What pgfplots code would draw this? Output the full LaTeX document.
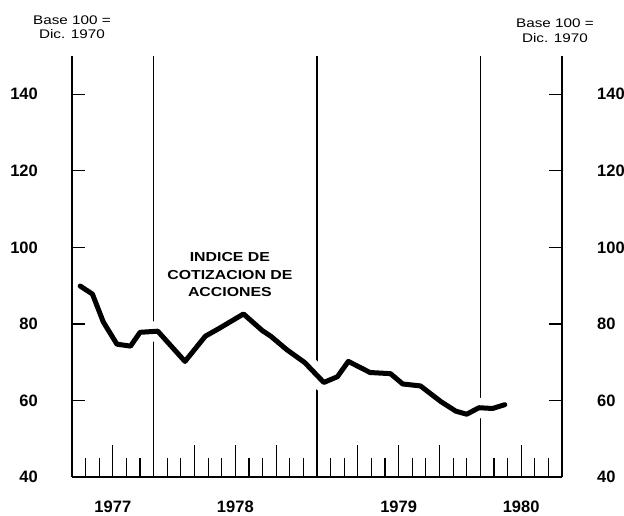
\documentclass[border=0pt]{standalone}
\usepackage{pgfplots}
\pgfplotsset{compat=1.18}
\usepackage{fontspec}
\setmainfont{Liberation Sans}
\newfontfamily\widefont[FakeStretch=1.22]{Liberation Sans}

% indice mensual, x = meses desde jul-1977
\pgfplotstableread{
m    v
0.6  89.9
1.5  87.8
2.3  80.5
3.3  74.7
4.3  74.2
5.0  77.8
6.3  78.1
8.3  70.2
9.8  76.8
10.8 78.8
12.6 82.6
14.0 78.2
14.6 76.8
15.8 73.2
17.1 69.9
18.5 64.7
19.5 66.2
20.3 70.2
21.9 67.3
23.4 67.0
24.3 64.3
25.6 63.8
27.1 59.7
28.2 57.2
29.0 56.4
29.9 58.1
30.9 57.9
31.8 58.9
}\indice

\pgfplotsset{base/.style={scale only axis,width=490pt,height=421pt,
  at={(0,0)},anchor=south west,xmin=0,xmax=36,ymin=40,ymax=150,
  axis line style={line width=1.6pt},tick style={line width=1.2pt,black},
  tick align=inside,clip=false}}

\begin{document}
\begin{tikzpicture}
\useasboundingbox (-72pt,-39pt) rectangle (552pt,477pt);
\begin{axis}[base,axis x line*=bottom,axis y line=none,
  xtick={3,9,12,15,21,24,27,33},
  minor xtick={1,2,4,5,7,8,10,11,13,14,16,17,19,20,22,23,25,26,28,29,31,32,34,35},
  xticklabels={},major tick length=32pt,minor tick length=19pt,
  extra x ticks={6,18,30},extra x tick labels={},
  extra x tick style={grid=major,major grid style={black,line width=1.1pt}}]
\addplot[white,line width=20pt,line join=round] table[x=m,y=v] {\indice};
\addplot[black,line width=5pt,line join=round,line cap=round] table[x=m,y=v] {\indice};
\node[font=\fontsize{16.5}{16}\selectfont\bfseries,anchor=base] at (axis cs:3,40) [yshift=-36pt] {1977};
\node[font=\fontsize{16.5}{16}\selectfont\bfseries,anchor=base] at (axis cs:12,40) [yshift=-36pt] {1978};
\node[font=\fontsize{16.5}{16}\selectfont\bfseries,anchor=base] at (axis cs:24,40) [yshift=-36pt] {1979};
\node[font=\fontsize{16.5}{16}\selectfont\bfseries,anchor=base] at (axis cs:33,40) [yshift=-36pt] {1980};
\node[font=\widefont\fontsize{13}{17.5}\selectfont\bfseries,align=center,anchor=north,inner sep=0pt]
  at (axis cs:11.6,98.7) {INDICE DE\\COTIZACION DE\\ACCIONES};
\node[font=\widefont\fontsize{12.5}{14}\selectfont,anchor=base] at (rel axis cs:0,1) [yshift=31pt] {Base 100 =};
\node[font=\widefont\fontsize{12.5}{14}\selectfont,anchor=base] at (rel axis cs:0,1) [yshift=17pt] {Dic. 1970};
\node[font=\widefont\fontsize{12.5}{14}\selectfont,anchor=base] at (rel axis cs:1,1) [xshift=-7pt,yshift=28pt] {Base 100 =};
\node[font=\widefont\fontsize{12.5}{14}\selectfont,anchor=base] at (rel axis cs:1,1) [xshift=-7pt,yshift=13pt] {Dic. 1970};
\end{axis}
\begin{axis}[base,axis x line=none,axis y line*=left,
  ytick={40,60,...,140},major tick length=13pt,
  /pgf/number format/assume math mode=true,
  yticklabel style={font=\fontsize{16.5}{16}\selectfont\bfseries,inner sep=0pt,anchor=east,xshift=-34pt}]
\addplot[draw=none] coordinates {(0,40)};
\end{axis}
\begin{axis}[base,axis x line=none,axis y line*=right,
  ytick={40,60,...,140},major tick length=13pt,
  /pgf/number format/assume math mode=true,
  yticklabel style={font=\fontsize{16.5}{16}\selectfont\bfseries,inner sep=0pt,anchor=west,xshift=35pt}]
\addplot[draw=none] coordinates {(0,40)};
\end{axis}
\end{tikzpicture}
\end{document}
